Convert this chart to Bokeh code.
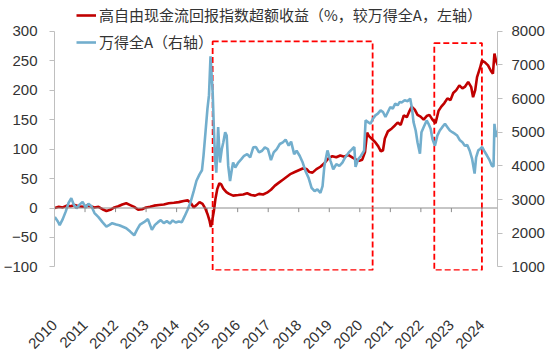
import math
from bokeh.plotting import figure
from bokeh.models import (Range1d, LinearAxis, FixedTicker, Span, Legend, LegendItem)
from bokeh.embed import file_html
from bokeh.resources import INLINE

# ---- data (decimal years) ----
red_t = [2010.35, 2010.48, 2010.61, 2010.74, 2010.87, 2011.00, 2011.13, 2011.26, 2011.39, 2011.52,
         2011.65, 2011.78, 2011.91, 2012.04, 2012.17, 2012.30, 2012.43, 2012.56, 2012.69, 2012.82,
         2012.95, 2013.08, 2013.21, 2013.34, 2013.47, 2013.60, 2013.76, 2013.92, 2014.08, 2014.25,
         2014.41, 2014.57, 2014.70, 2014.80, 2014.90, 2014.99, 2015.09, 2015.19, 2015.29, 2015.35,
         2015.42, 2015.46, 2015.51, 2015.56, 2015.61, 2015.67, 2015.74, 2015.80, 2015.87, 2015.97,
         2016.06, 2016.19, 2016.36, 2016.52, 2016.65, 2016.78, 2016.91, 2017.04, 2017.17, 2017.30,
         2017.43, 2017.56, 2017.69, 2017.82, 2017.95, 2018.08, 2018.21, 2018.34, 2018.47, 2018.60,
         2018.69, 2018.79, 2018.92, 2019.05, 2019.18, 2019.31, 2019.44, 2019.57, 2019.70, 2019.83,
         2019.96, 2020.09, 2020.22, 2020.32, 2020.42, 2020.51, 2020.58, 2020.64, 2020.74, 2020.84,
         2020.94, 2021.03, 2021.10, 2021.16, 2021.26, 2021.39, 2021.49, 2021.58, 2021.68, 2021.78,
         2021.88, 2021.97, 2022.04, 2022.14, 2022.23, 2022.33, 2022.43, 2022.53, 2022.62, 2022.72,
         2022.82, 2022.92, 2023.01, 2023.11, 2023.21, 2023.31, 2023.40, 2023.50, 2023.60, 2023.70,
         2023.79, 2023.89, 2023.99, 2024.05, 2024.12, 2024.18, 2024.28, 2024.34, 2024.44, 2024.54,
         2024.64, 2024.70, 2024.75, 2024.80, 2024.86]
red_v = [0, 2, 1, 4, 3, 5, 3, 2, 4, 3,
         1, 2, -2, -5, -3, 1, 3, 6, 8, 5,
         2, -3, -2, 1, 2, 4, 5, 6, 8, 9,
         10, 12, 13, 9, 1, 5, 10, 7, -2, -10,
         -22, -32, -20, -5, 15, 32, 42, 40, 33, 27,
         24, 21, 22, 23, 25, 22, 21, 24, 23, 26,
         31, 38, 43, 48, 53, 58, 61, 64, 67, 66,
         61, 60, 66, 70, 76, 84, 88, 86, 89, 87,
         90, 86, 82, 80, 82, 95, 128, 122, 117, 112,
         105, 96, 98, 118, 130, 135, 140, 145, 141, 157,
         154, 165, 172, 167, 158, 155, 150, 156, 158, 150,
         144, 165, 172, 178, 186, 183, 195, 200, 208, 203,
         206, 214, 205, 188, 200, 222, 238, 250, 247, 242,
         232, 228, 262, 250, 242]

blue_t = [2010.35, 2010.45, 2010.51, 2010.61, 2010.71, 2010.80, 2010.89, 2010.97, 2011.06, 2011.16,
          2011.26, 2011.36, 2011.45, 2011.55, 2011.65, 2011.78, 2011.91, 2012.04, 2012.14, 2012.23,
          2012.36, 2012.46, 2012.56, 2012.69, 2012.82, 2012.95, 2013.04, 2013.14, 2013.27, 2013.40,
          2013.53, 2013.63, 2013.73, 2013.82, 2013.92, 2014.02, 2014.12, 2014.21, 2014.31, 2014.41,
          2014.51, 2014.60, 2014.70, 2014.80, 2014.90, 2014.99, 2015.09, 2015.17, 2015.22, 2015.29,
          2015.35, 2015.40, 2015.45, 2015.48, 2015.52, 2015.56, 2015.60, 2015.64, 2015.70, 2015.76,
          2015.82, 2015.87, 2015.93, 2015.98, 2016.03, 2016.09, 2016.15, 2016.19, 2016.26, 2016.36,
          2016.46, 2016.55, 2016.65, 2016.75, 2016.85, 2016.94, 2017.04, 2017.14, 2017.23, 2017.33,
          2017.43, 2017.52, 2017.62, 2017.72, 2017.82, 2017.91, 2018.01, 2018.09, 2018.19, 2018.27,
          2018.37, 2018.47, 2018.56, 2018.66, 2018.76, 2018.86, 2018.95, 2019.05, 2019.12, 2019.18,
          2019.28, 2019.38, 2019.47, 2019.57, 2019.67, 2019.77, 2019.86, 2019.98, 2020.09, 2020.16,
          2020.20, 2020.29, 2020.38, 2020.48, 2020.53, 2020.61, 2020.69, 2020.77, 2020.85, 2020.93,
          2021.02, 2021.10, 2021.18, 2021.26, 2021.34, 2021.42, 2021.50, 2021.58, 2021.65, 2021.71,
          2021.81, 2021.91, 2021.99, 2022.05, 2022.10, 2022.17, 2022.23, 2022.31, 2022.36, 2022.43,
          2022.53, 2022.59, 2022.66, 2022.72, 2022.80, 2022.88, 2022.96, 2023.04, 2023.13, 2023.21,
          2023.29, 2023.37, 2023.46, 2023.53, 2023.62, 2023.70, 2023.78, 2023.86, 2023.94, 2024.02,
          2024.10, 2024.15, 2024.22, 2024.28, 2024.35, 2024.43, 2024.51, 2024.59, 2024.67, 2024.72,
          2024.75, 2024.80, 2024.84]
blue_v = [2480, 2350, 2240, 2420, 2650, 2900, 3040, 2850, 2740, 2850,
          2930, 2760, 2880, 2800, 2600, 2480, 2330, 2200, 2250, 2300,
          2260, 2240, 2200, 2150, 2050, 1940, 2100, 2260, 2330, 2420,
          2100, 2250, 2330, 2390, 2300, 2360, 2290, 2380, 2320, 2350,
          2330, 2500, 2700, 2930, 3250, 3560, 3750, 3870, 4300, 5050,
          5700, 6100, 7250, 6800, 6200, 5100, 4200, 3800, 5150, 4100,
          4500, 4700, 5000, 4900, 4000, 3550, 3900, 4100, 3950, 4100,
          4200, 4300, 4350, 4250, 4550, 4560, 4400, 4450, 4550, 4500,
          4170, 4400, 4500, 4650, 4700, 4780, 4600, 4720, 4350, 4450,
          4300, 4100, 3850, 3650, 3350, 3250, 3300, 3200, 3400, 4000,
          4460, 4150, 3900, 4050, 4000, 4100, 4250, 4400, 4500, 4560,
          3970, 4200, 4300, 4450, 5350, 5300, 5250, 5400, 5500, 5550,
          5650, 5600, 5450, 5600, 5750, 5700, 5850, 5800, 5900, 5880,
          5950, 5920, 6000, 5700, 5300, 5050, 4700, 4360, 5000, 5150,
          5350, 5250, 5100, 4800, 4600, 4900, 5050, 5150, 5250, 5150,
          5050, 5000, 4950, 4900, 4760, 4700, 4600, 4620, 4450, 4200,
          3770, 4250, 4460, 4500, 4560, 4420, 4300, 4170, 4000, 3980,
          5250, 4860, 5050]

year_labels = [str(y) for y in range(2010, 2025)]
year_ticks = [round(2010.34 + i, 2) for i in range(15)]
left_ticks = [-100, -50, 0, 50, 100, 150, 200, 250, 300]
right_ticks = [1000, 2000, 3000, 4000, 5000, 6000, 7000, 8000]

# highlighted periods (dashed boxes)
box_left = [2015.52, 2022.78]
box_right = [2020.76, 2024.34]
box_top = [282.5, 279.7]
box_bottom = [-105.6, -105.6]

red_label = "高自由现金流回报指数超额收益（%，较万得全A，左轴）"
blue_label = "万得全A（右轴）"

RED = "#C00000"
BLUE = "#72AECD"
TXT = "#333333"
NUM_FONT = "Liberation Sans"

# frame spans the full height above the axes so the legend (above the 300 line) is not clipped
p = figure(width=550, height=356, output_backend="svg", toolbar_location=None,
           x_range=Range1d(2010.34, 2024.85), y_range=Range1d(-106, 352),
           min_border_left=50, min_border_right=53, min_border_top=0, min_border_bottom=86)
p.extra_y_ranges = {"r": Range1d(1000 - 6 * 17.5, 8000 + 52 * 17.5)}
p.xgrid.visible = False
p.ygrid.visible = False
p.outline_line_color = None
p.background_fill_color = "white"
p.border_fill_color = "white"

# left axis
ya = p.yaxis[0]
ya.ticker = FixedTicker(ticks=left_ticks)
ya.bounds = (-100, 300)
ya.axis_line_color = "#BFBFBF"
ya.major_tick_line_color = "#BFBFBF"
ya.major_tick_out = 5
ya.major_tick_in = 0
ya.minor_tick_line_color = None
ya.major_label_text_font = NUM_FONT
ya.major_label_text_font_size = "15px"
ya.major_label_text_color = TXT
ya.major_label_standoff = 12

# right axis
ra = LinearAxis(y_range_name="r", ticker=FixedTicker(ticks=right_ticks), bounds=(1000, 8000))
ra.axis_line_color = "#BFBFBF"
ra.major_tick_line_color = "#BFBFBF"
ra.major_tick_out = 5
ra.major_tick_in = 0
ra.minor_tick_line_color = None
ra.major_label_text_font = NUM_FONT
ra.major_label_text_font_size = "15px"
ra.major_label_text_color = TXT
ra.major_label_standoff = 9
p.add_layout(ra, "right")

# bottom axis: labels only
xa = p.xaxis[0]
xa.ticker = FixedTicker(ticks=year_ticks)
xa.major_label_overrides = {t: l for t, l in zip(year_ticks, year_labels)}
xa.major_label_orientation = math.pi / 4
xa.axis_line_color = None
xa.major_tick_line_color = None
xa.minor_tick_line_color = None
xa.major_label_text_font = NUM_FONT
xa.major_label_text_font_size = "15px"
xa.major_label_text_color = TXT
xa.major_label_standoff = 46

# zero line with yearly tick marks
p.add_layout(Span(location=0, dimension="width", line_color="#8C8C8C", line_width=1))
p.segment(x0=year_ticks, y0=[0] * len(year_ticks), x1=year_ticks, y1=[-7] * len(year_ticks),
          line_color="#8C8C8C", line_width=1)

# dashed highlight boxes
p.quad(left=box_left, right=box_right, bottom=box_bottom, top=box_top,
       fill_alpha=0, line_color="#FF0000", line_width=1.8, line_dash="6 3")

# series
r_red = p.line(red_t, red_v, line_color=RED, line_width=2.6)
r_blue = p.line(blue_t, blue_v, line_color=BLUE, line_width=2.6, y_range_name="r")

legend = Legend(items=[LegendItem(label=red_label, renderers=[r_red]),
                       LegendItem(label=blue_label, renderers=[r_blue])],
                location=(22, 218), orientation="vertical",
                padding=0, margin=0, spacing=6,
                glyph_width=20, glyph_height=20, label_height=20, label_standoff=3,
                border_line_color=None, background_fill_alpha=0,
                label_text_font="Noto Sans CJK SC", label_text_font_size="15px",
                label_text_color=TXT)
p.add_layout(legend, "center")

open("out.html", "w").write(file_html(p, INLINE))
